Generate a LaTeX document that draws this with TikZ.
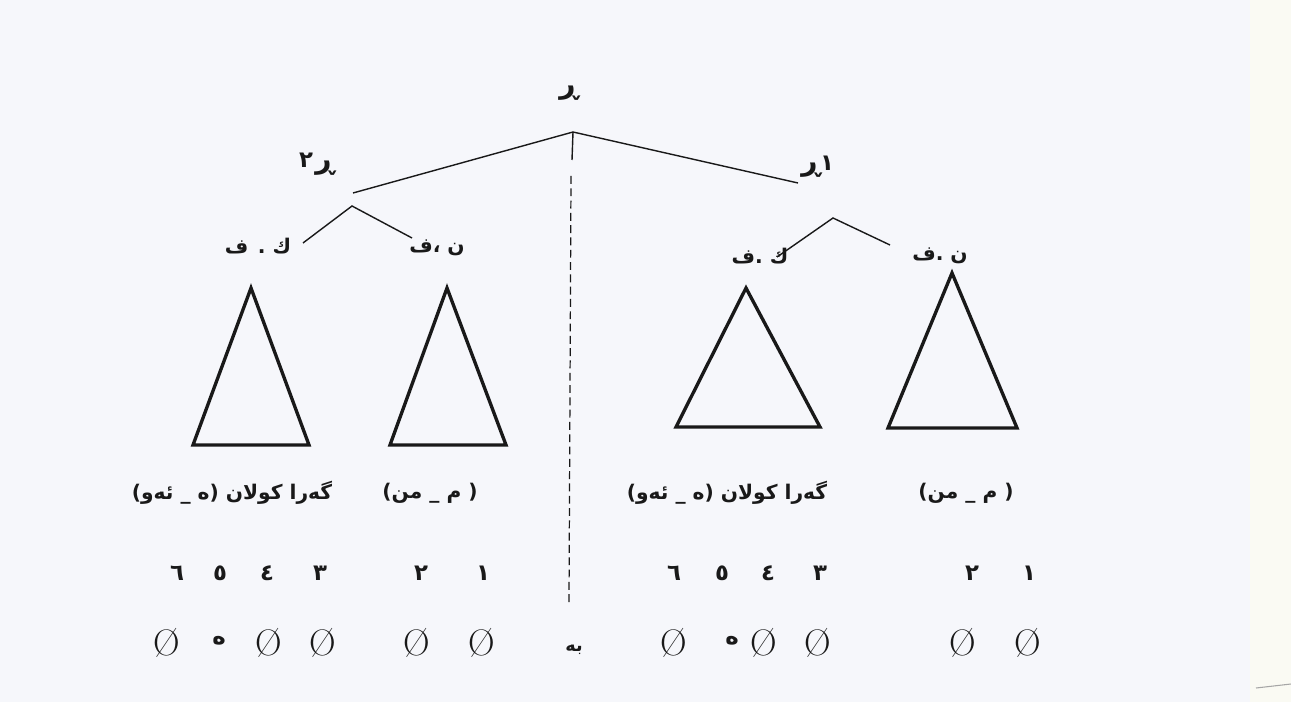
\documentclass[tikz,border=0pt]{standalone}
\usepackage{fontspec}
\newfontfamily\arabicfont[Script=Arabic]{DejaVu Sans}
\TeXXeTstate=1
\definecolor{paper}{RGB}{246,247,251}
\definecolor{paperedge}{RGB}{250,250,243}
\definecolor{ink}{RGB}{25,25,25}
\tikzset{
  ar/.style={font=\arabicfont\bfseries\fontsize{11.5}{14}\selectfont, inner sep=0pt, text=ink},
  lbl/.style={font=\arabicfont\bfseries\fontsize{16}{18}\selectfont, inner sep=0pt, text=ink},
  dig/.style={font=\arabicfont\bfseries\fontsize{13}{15}\selectfont, inner sep=0pt, text=ink},
  zero/.style={font=\fontsize{21}{23}\selectfont, inner sep=0pt, text=ink},
  branch/.style={draw=ink, line width=0.8pt},
  tri/.style={draw=ink, line width=1.9pt, line join=miter},
}
\begin{document}
\begin{tikzpicture}[x=0.02cm, y=-0.02cm]
\useasboundingbox (0,0) rectangle (1291,702);
\fill[paper] (0,0) rectangle (1291,702);
\fill[paperedge] (1250,0) rectangle (1291,702);
\draw[gray!70, line width=0.6pt] (1256,688) -- (1291,684);

% root
\node[lbl] (root) at (569,93) {\beginR ڕ\endR};
\coordinate (top) at (573,132);
\coordinate (l2) at (353,193);
\coordinate (r1) at (798,183);
\draw[branch] (l2) -- (top) -- (r1);
\coordinate (vend) at (572,160);
\draw[branch] (top) -- (vend);
\coordinate (d1) at (571,176);
\coordinate (d2) at (569,603);
\draw[branch, line width=0.7pt, dash pattern=on 4.5pt off 2.5pt] (d1) -- (d2);

% sub-sentence labels
\node[lbl] (r2l) at (325,168) {\beginR ڕ\endR};
\node[dig] (r2d) at (306,160) {٢};
\node[lbl] (r1l) at (811,170) {\beginR ڕ\endR};
\node[dig] (r1d) at (827,163) {١};

% left subtree
\coordinate (la) at (352,206);
\coordinate (lb1) at (303,243);
\coordinate (lb2) at (412,238);
\draw[branch] (lb1) -- (la) -- (lb2);
\node[ar] (lvp) at (258,246) {\beginR ك . ف\endR};
\node[ar] (lnp) at (437,248) {\beginR ن ،ف\endR};

% right subtree
\coordinate (ra) at (833,218);
\coordinate (rb1) at (777,257);
\coordinate (rb2) at (890,245);
\draw[branch] (rb1) -- (ra) -- (rb2);
\node[ar] (rvp) at (760,256) {\beginR ك .ف\endR};
\node[ar] (rnp) at (940,256) {\beginR ن .ف\endR};

% triangles
\coordinate (t1a) at (251,288); \coordinate (t1b) at (193,445); \coordinate (t1c) at (309,445);
\coordinate (t2a) at (447,288); \coordinate (t2b) at (390,445); \coordinate (t2c) at (506,445);
\coordinate (t3a) at (746,288); \coordinate (t3b) at (676,427); \coordinate (t3c) at (820,427);
\coordinate (t4a) at (952,273); \coordinate (t4b) at (888,428); \coordinate (t4c) at (1017,428);
\draw[tri] (t1a) -- (t1b) -- (t1c) -- cycle;
\draw[tri] (t2a) -- (t2b) -- (t2c) -- cycle;
\draw[tri] (t3a) -- (t3b) -- (t3c) -- cycle;
\draw[tri] (t4a) -- (t4b) -- (t4c) -- cycle;

% phrases
\node[ar] (lp1) at (232,493) {\beginR گەرا کولان (ە \_ ئەو)\endR};
\node[ar] (lp2) at (430,493) {\beginR ( م \_ من)\endR};
\node[ar] (rp1) at (727,493) {\beginR گەرا کولان (ە \_ ئەو)\endR};
\node[ar] (rp2) at (966,493) {\beginR ( م \_ من)\endR};

% digits
\node[dig] (ld6) at (177,573) {٦};
\node[dig] (ld5) at (220,573) {٥};
\node[dig] (ld4) at (267,573) {٤};
\node[dig] (ld3) at (320,573) {٣};
\node[dig] (ld2) at (421,573) {٢};
\node[dig] (ld1) at (483,573) {١};
\node[dig] (rd6) at (674,573) {٦};
\node[dig] (rd5) at (722,573) {٥};
\node[dig] (rd4) at (768,573) {٤};
\node[dig] (rd3) at (820,573) {٣};
\node[dig] (rd2) at (972,573) {٢};
\node[dig] (rd1) at (1029,573) {١};

% zero row
\node[zero] (lz6) at (167,643) {Ø};
\node[dig]  (lz5) at (219,641) {ە};
\node[zero] (lz4) at (269,643) {Ø};
\node[zero] (lz3) at (323,643) {Ø};
\node[zero] (lz2) at (417,643) {Ø};
\node[zero] (lz1) at (482,643) {Ø};
\node[ar, font=\arabicfont\bfseries\fontsize{10}{12}\selectfont] (be) at (574,650) {\beginR بە\endR};
\node[zero] (rz6) at (674,643) {Ø};
\node[dig]  (rz5) at (732,641) {ە};
\node[zero] (rz4) at (764,643) {Ø};
\node[zero] (rz3) at (818,643) {Ø};
\node[zero] (rz2) at (963,643) {Ø};
\node[zero] (rz1) at (1028,643) {Ø};
\end{tikzpicture}
\end{document}
